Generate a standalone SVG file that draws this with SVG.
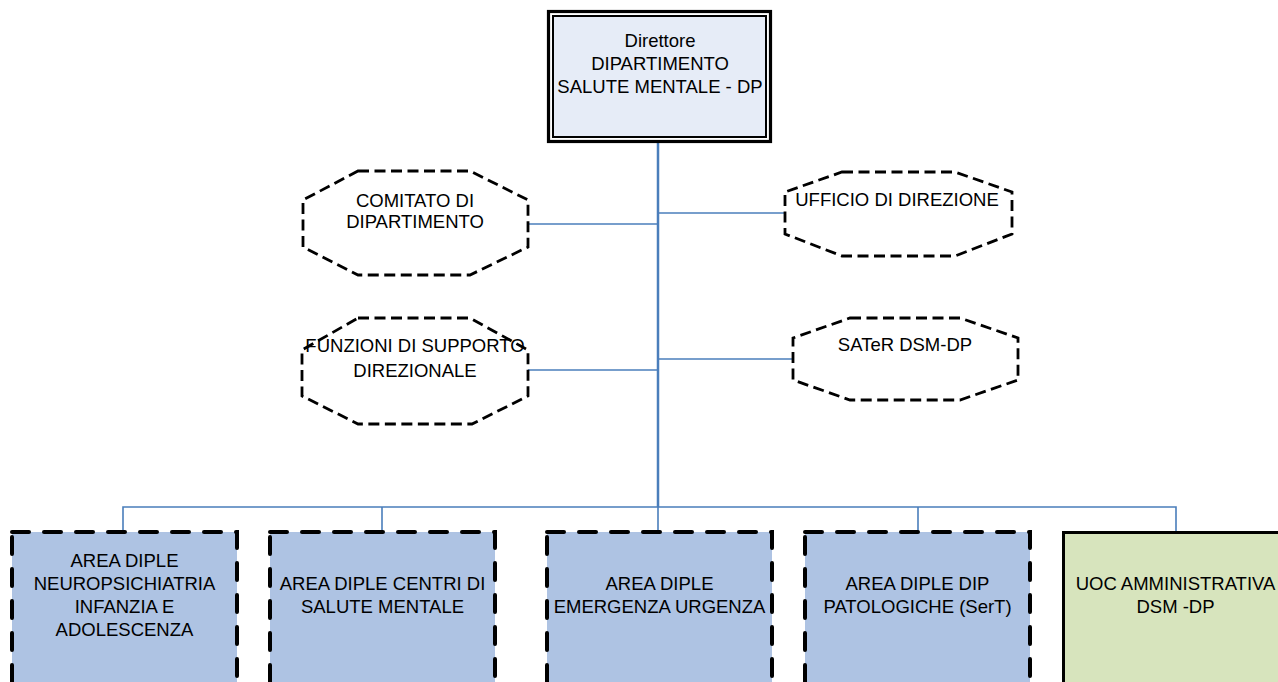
<svg xmlns="http://www.w3.org/2000/svg" width="1278" height="682" viewBox="0 0 1278 682">
<style>
text{font-family:"Liberation Sans",Arial,sans-serif;font-size:18.5px;fill:#000;text-anchor:middle}
.oct{fill:#fff;stroke:#000;stroke-width:2.8;stroke-dasharray:11 5.5}
.area{fill:#AEC3E3;stroke:#000;stroke-width:4;stroke-dasharray:17 15;stroke-linecap:round}
.con{stroke:#4A7EBB;stroke-width:1.6;fill:none}
</style>
<rect width="1278" height="682" fill="#fff"/>
<g id="connectors">
<line class="con" x1="658" y1="142" x2="658" y2="507" style="stroke-width:2.5"/>
<line class="con" x1="528" y1="224" x2="658" y2="224"/>
<line class="con" x1="658" y1="213" x2="785" y2="213"/>
<line class="con" x1="528" y1="370" x2="658" y2="370"/>
<line class="con" x1="658" y1="359" x2="793" y2="359"/>
<polyline class="con" points="123,532 123,507 1176,507 1176,532"/>
<line class="con" x1="382" y1="507" x2="382" y2="532"/>
<line class="con" x1="658" y1="507" x2="658" y2="532"/>
<line class="con" x1="918" y1="507" x2="918" y2="532"/>
</g>
<g id="direttore">
<rect x="548.5" y="11.5" width="222" height="130" fill="#fff" stroke="#000" stroke-width="3.2"/>
<rect x="553" y="16" width="213" height="121" fill="#E6ECF7" stroke="#000" stroke-width="2"/>
<text x="660" y="47">Direttore</text>
<text x="660" y="70">DIPARTIMENTO</text>
<text x="660" y="93">SALUTE MENTALE - DP</text>
</g>
<g id="comitato">
<polygon class="oct" points="358,171 470,171 528,200 528,247 470,275 358,275 303,247 303,200"/>
<text x="415" y="207">COMITATO DI</text>
<text x="415" y="228">DIPARTIMENTO</text>
</g>
<g id="ufficio">
<polygon class="oct" points="842,172 955,172 1012,192 1012,234 955,256 842,256 785,234 785,192"/>
<text x="897" y="206">UFFICIO DI DIREZIONE</text>
</g>
<g id="funzioni">
<polygon class="oct" points="358,318 470,318 528,350 528,396 472,424 358,424 302,396 302,350"/>
<text x="415" y="352">FUNZIONI DI SUPPORTO</text>
<text x="415" y="377">DIREZIONALE</text>
</g>
<g id="sater">
<polygon class="oct" points="850,318 960,318 1018,338 1018,380 960,400 850,400 793,380 793,338"/>
<text x="905" y="351">SATeR DSM-DP</text>
</g>
<g id="area-npia">
<rect class="area" x="12" y="532" width="225" height="170"/>
<text x="124.5" y="567">AREA DIPLE</text>
<text x="124.5" y="590">NEUROPSICHIATRIA</text>
<text x="124.5" y="613">INFANZIA E</text>
<text x="124.5" y="636">ADOLESCENZA</text>
</g>
<g id="area-csm">
<rect class="area" x="270" y="532" width="225" height="170"/>
<text x="382.5" y="590">AREA DIPLE CENTRI DI</text>
<text x="382.5" y="613">SALUTE MENTALE</text>
</g>
<g id="area-emergenza">
<rect class="area" x="547" y="532" width="225" height="170"/>
<text x="659.5" y="590">AREA DIPLE</text>
<text x="659.5" y="613">EMERGENZA URGENZA</text>
</g>
<g id="area-dip">
<rect class="area" x="805" y="532" width="225" height="170"/>
<text x="917.5" y="590">AREA DIPLE DIP</text>
<text x="917.5" y="613">PATOLOGICHE (SerT)</text>
</g>
<g id="uoc">
<rect x="1063.5" y="532.5" width="225" height="170" fill="#D7E4BD" stroke="#000" stroke-width="3"/>
<text x="1175.5" y="590">UOC AMMINISTRATIVA</text>
<text x="1175.5" y="613">DSM -DP</text>
</g>
</svg>
